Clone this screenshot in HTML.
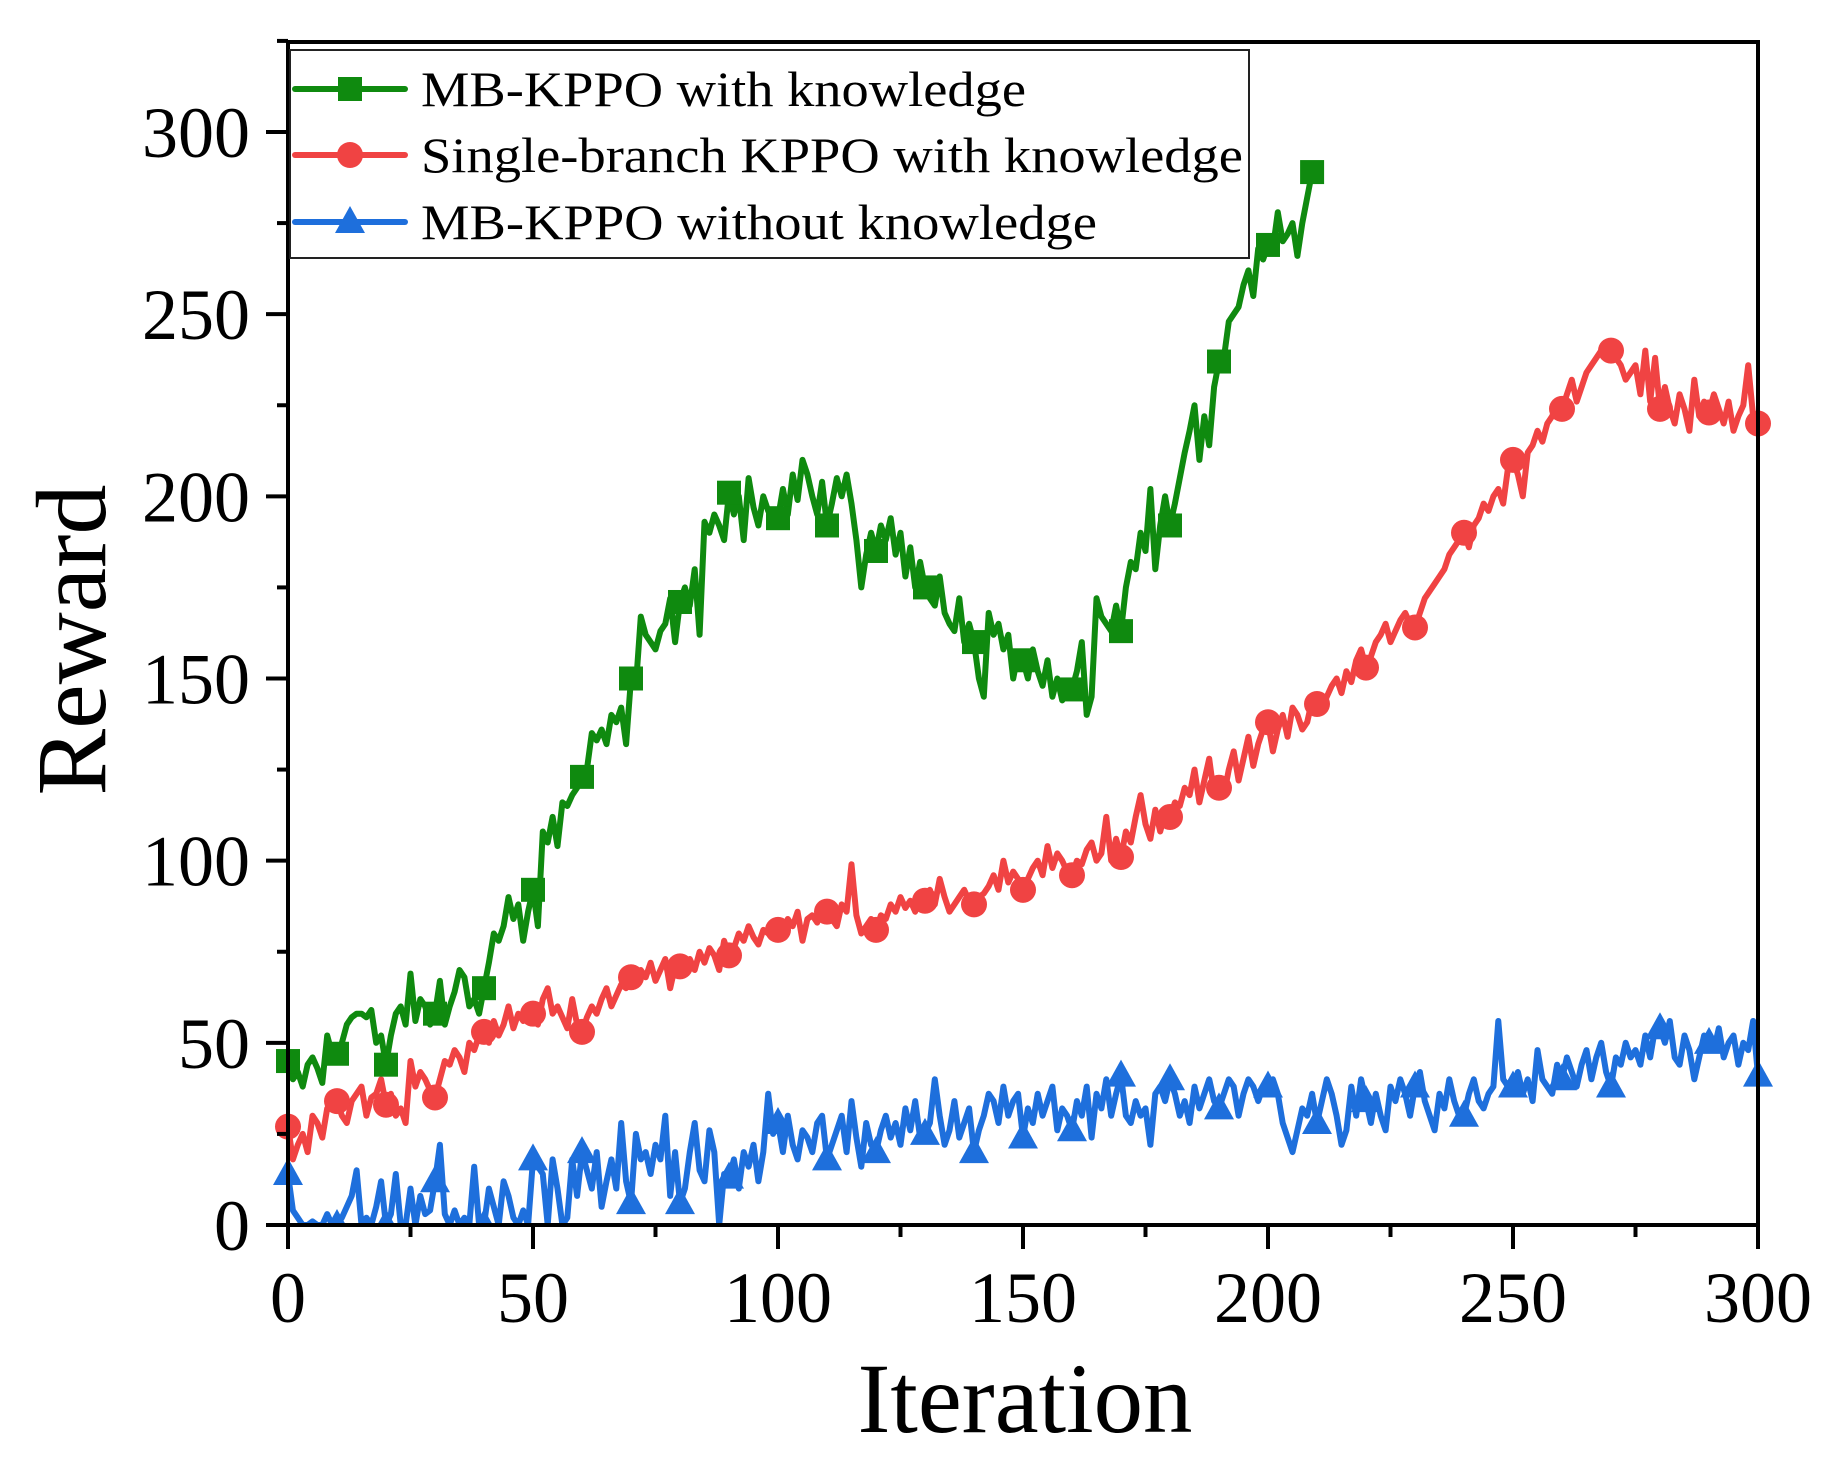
<!DOCTYPE html>
<html><head><meta charset="utf-8"><style>
html,body{margin:0;padding:0;background:#fff}
svg{display:block}
text{font-family:"Liberation Serif",serif;fill:#000}
</style></head><body>
<svg id="chart" width="1845" height="1467" viewBox="0 0 1845 1467" xmlns="http://www.w3.org/2000/svg">
<g id="plot"></g>
<g id="axes"></g>
<text x="1025" y="1432" font-size="100" text-anchor="middle" textLength="335" lengthAdjust="spacingAndGlyphs">Iteration</text>
<text x="0" y="0" font-size="100" text-anchor="middle" transform="translate(105,640) rotate(-90)">Reward</text>
<g id="legend"></g>
</svg>
<script>
const xTicks=[0,50,100,150,200,250,300];
const yTicks=[0,50,100,150,200,250,300];
const greenVals=[45,40,42,38,44,46,43,39,52,47,47,50,55,57,58,58,57,59,50,52,44,52,58,60,55,69,56,62,60,55,58,67,55,60,64,70,68,60,62,58,65,72,80,78,82,90,84,88,78,86,92,82,108,105,112,104,116,115,118,120,123,125,135,133,136,132,140,138,142,132,150,148,167,162,160,158,163,165,172,160,171,175,170,180,162,193,190,195,192,188,201,195,200,188,205,197,192,200,196,194,194,202,195,206,199,210,206,200,195,204,192,198,205,200,206,198,188,175,184,190,185,192,188,194,184,190,178,186,175,182,175,172,170,178,168,165,163,172,160,165,160,150,145,168,162,165,158,162,150,157,155,150,158,152,148,155,145,150,144,146,147,152,160,140,145,172,167,165,163,170,163,175,182,180,190,185,202,180,192,200,192,198,205,212,218,225,210,222,214,230,237,238,248,250,252,258,262,255,268,265,269,268,278,270,272,275,266,275,282,289];
const redVals=[27,18,22,25,20,30,28,24,32,33,34,30,28,34,36,38,30,35,36,40,33,36,30,32,28,45,38,42,40,37,35,40,45,44,48,46,42,50,48,52,53,50,56,52,55,60,54,58,56,60,58,55,62,65,58,60,57,54,62,55,53,57,60,58,62,65,60,63,66,65,68,66,70,68,72,67,70,73,65,71,71,69,73,70,75,72,76,74,70,78,74,76,80,78,82,79,77,81,80,83,81,80,84,82,86,78,84,85,83,88,86,84,82,88,86,99,85,80,82,84,81,85,84,88,86,90,87,89,86,90,89,92,88,95,90,86,88,90,92,89,88,90,91,93,96,92,100,94,97,95,92,95,98,100,96,104,98,102,100,97,96,100,99,103,105,100,102,112,100,106,101,108,105,112,118,110,106,114,108,113,112,116,115,120,118,125,116,122,128,118,120,118,125,130,122,128,134,126,132,136,138,130,136,140,134,142,140,136,138,144,143,142,145,148,150,146,152,149,155,158,153,156,160,162,165,160,163,166,168,165,164,168,172,174,176,178,180,184,186,188,190,186,192,194,198,196,200,202,198,208,210,206,200,212,214,218,215,220,222,226,224,228,232,226,230,234,236,238,240,239,240,238,236,232,234,236,228,240,226,238,224,230,224,220,228,224,218,232,222,226,223,228,224,220,226,218,222,225,236,222,220];
const blueVals=[14,4,2,0,0,1,0,0,3,0,0,2,5,8,15,0,2,0,5,12,0,3,14,0,0,10,0,8,3,4,12,22,3,0,4,0,2,0,16,0,0,10,5,0,12,8,2,0,4,0,18,16,14,0,18,10,0,2,18,8,20,15,10,20,5,12,18,10,28,12,6,25,18,20,14,22,18,30,8,20,6,10,20,28,15,12,26,20,0,14,13,18,10,20,16,22,12,20,36,25,28,20,30,22,18,26,24,20,28,30,18,22,26,30,20,34,24,16,28,22,20,26,30,24,28,22,32,26,34,24,25,28,40,30,22,26,34,24,28,32,20,26,30,36,34,28,38,30,34,36,24,32,28,36,30,34,38,26,32,30,26,34,30,38,24,36,32,40,30,36,41,30,28,34,30,32,22,36,38,34,40,36,30,34,28,38,32,36,40,34,32,36,40,38,30,36,40,38,34,38,38,40,36,28,24,20,26,32,30,36,28,34,40,36,30,22,26,38,30,40,34,28,36,30,26,38,34,40,36,30,38,42,34,30,26,36,32,40,34,30,30,36,40,34,32,36,38,56,40,38,38,42,36,40,34,48,40,38,36,44,40,46,42,38,44,48,40,46,50,42,38,46,44,50,46,48,44,52,46,54,54,50,56,46,44,52,48,40,46,52,50,48,54,46,50,52,44,50,48,56,41];
const seriesNames=["MB-KPPO with knowledge","Single-branch KPPO with knowledge","MB-KPPO without knowledge"];
const legendWidths=[605,822,676];

const X0=288,X1=1758,Y0=1225,YT=42;
const xs=v=>X0+(v/300)*(X1-X0);
const ys=v=>Y0-(v/300)*(Y0-132);
const NS="http://www.w3.org/2000/svg";
function mk(tag,attrs,parent){const e=document.createElementNS(NS,tag);for(const k in attrs)e.setAttribute(k,attrs[k]);parent.appendChild(e);return e;}
const plot=document.getElementById('plot'),axes=document.getElementById('axes'),legend=document.getElementById('legend');
const defs=mk('defs',{},plot);
const cp=mk('clipPath',{id:'clip'},defs);mk('rect',{x:X0-15,y:YT,width:X1-X0+30,height:Y0-YT},cp);

function marker(kind,cx,cy,color,parent){
  let m;
  if(kind==='sq') m=mk('rect',{x:cx-12,y:cy-12,width:24,height:24,fill:color},parent);
  else if(kind==='ci') m=mk('circle',{cx:cx,cy:cy,r:13,fill:color},parent);
  else m=mk('polygon',{points:`${cx},${cy-16} ${cx-15},${cy+11} ${cx+15},${cy+11}`,fill:color},parent);
  return m;
}
const specs=[[greenVals,'#0f8a0f','sq','series-mb-kppo-with-knowledge'],[redVals,'#f04343','ci','series-single-branch-kppo'],[blueVals,'#1e6fdc','tr','series-mb-kppo-without-knowledge']];
specs.slice().reverse().forEach(([vals,col,kind,name])=>{
  const g=mk('g',{'clip-path':'url(#clip)'},plot);
  
  
  const d=vals.map((v,i)=>(i?'L':'M')+xs(i).toFixed(1)+','+ys(v).toFixed(1)).join('');
  const p=mk('path',{d:d,fill:'none',stroke:col,'stroke-width':6,'stroke-linejoin':'round'},g);
  
  
  vals.forEach((v,i)=>{if(i%10===0||i===vals.length-1){const m=marker(kind,xs(i),ys(v),col,g);
    
    }});
});
mk('rect',{x:X0,y:YT,width:X1-X0,height:Y0-YT,fill:'none',stroke:'#000','stroke-width':4},axes);
for(let v=0;v<=300;v+=25){const x=xs(v);mk('line',{x1:x,y1:Y0,x2:x,y2:Y0+(v%50===0?24:12),stroke:'#000','stroke-width':4},axes);}
for(let v=0;v<=325;v+=25){const y=ys(v);mk('line',{x1:X0,y1:y,x2:X0-(v%50===0?22:11),y2:y,stroke:'#000','stroke-width':4},axes);}
xTicks.forEach(v=>{const t=mk('text',{x:xs(v),y:1322,'font-size':72,'text-anchor':'middle'},axes);t.textContent=v;
  
  });
yTicks.forEach(v=>{const t=mk('text',{x:250,y:ys(v)+25,'font-size':72,'text-anchor':'end'},axes);t.textContent=v;
  
  });
mk('rect',{x:290,y:50,width:959,height:208,fill:'#fff',stroke:'#222','stroke-width':2},legend);
const rows=[89,155,222];
specs.forEach(([vals,col,kind,name],i)=>{
  const g=mk('g',{},legend);
  
  
  mk('line',{x1:295,y1:rows[i],x2:405,y2:rows[i],stroke:col,'stroke-width':6,'stroke-linecap':'round'},g);
  marker(kind,350,rows[i],col,g);
  const t=mk('text',{x:421,y:rows[i]+17,'font-size':50,textLength:legendWidths[i],lengthAdjust:'spacingAndGlyphs'},g);t.textContent=seriesNames[i];
});
</script>
</body></html>
